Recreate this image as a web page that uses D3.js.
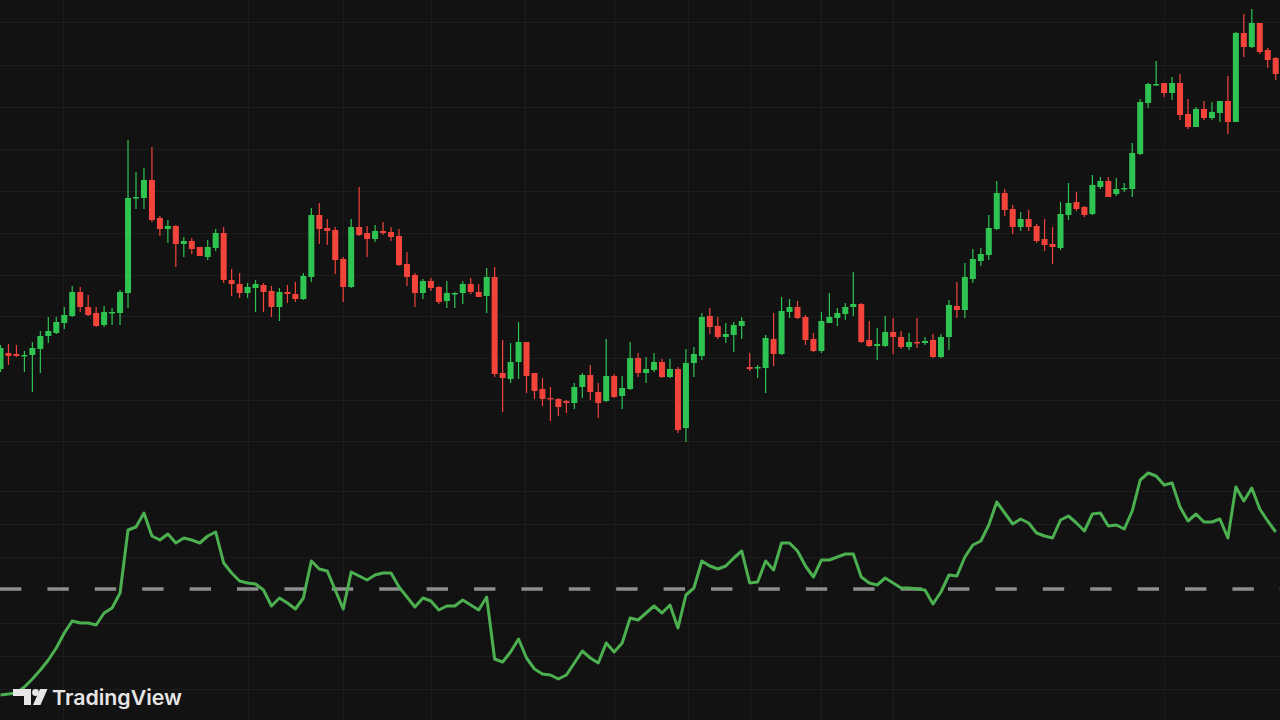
<!DOCTYPE html>
<html>
<head>
<meta charset="utf-8">
<script src="https://cdn.jsdelivr.net/npm/d3@7"></script>
<style>
  html, body { margin: 0; padding: 0; background: #121212; overflow: hidden; }
  svg { display: block; }
</style>
</head>
<body>
<svg id="chart" width="1280" height="720"></svg>
<script>
// ---- Data (arbitrary price units) ----
const opens = [631,647,646,644,645,651,664,667,677,684,708,693,687,675,687,687,707,802,802,820,
782,771,774,756,759,753,743,752,767,720,716,707,712,715,709,693,708,706,701,723,
785,772,770,741,713,773,767,761,769,768,764,736,725,707,719,713,699,706,707,716,
708,704,723,627,621,638,658,627,611,602,601,599,597,613,625,608,599,624,604,611,
642,627,630,638,623,631,572,637,644,684,674,663,665,674,633,632,632,661,646,688,
693,683,661,649,677,682,686,693,696,660,654,654,668,663,653,658,657,660,643,663,
694,690,721,739,745,771,807,791,773,781,774,761,756,752,785,798,793,786,813,819,
806,811,811,846,897,915,917,907,917,886,873,891,882,887,899,878,967,953,977,950,942];
const highs = [655,656,655,649,658,669,683,683,693,714,713,705,693,694,692,710,860,828,832,853,
784,780,775,763,762,753,760,771,773,731,727,717,720,717,714,712,715,718,727,792,
797,781,773,743,781,813,774,775,778,773,771,748,727,721,722,714,719,708,719,722,
716,732,733,660,657,678,658,627,622,613,602,600,617,627,635,617,661,626,624,658,
647,643,647,641,641,633,651,653,687,692,683,677,678,683,647,635,665,687,703,701,
699,685,667,688,707,692,697,728,697,679,672,684,682,669,667,682,663,666,666,700,
718,737,751,752,785,819,811,795,788,790,776,781,773,798,817,808,794,825,823,823,
822,817,857,901,917,939,917,923,926,901,893,899,898,899,924,968,986,991,977,952,943];
const lows = [628,635,643,628,608,627,657,666,671,683,688,684,673,673,675,675,692,791,791,778,
764,757,733,743,746,744,740,749,717,704,702,702,688,688,683,679,697,698,700,718,
756,755,726,698,712,764,743,758,765,759,734,714,693,701,709,696,692,692,696,706,
703,687,623,588,617,621,607,601,594,579,584,587,591,602,600,582,598,602,591,610,
623,617,628,622,622,567,558,623,640,666,661,657,648,661,629,622,607,634,645,682,
681,655,648,647,677,674,680,684,657,653,640,653,646,651,650,652,655,642,642,650,
682,682,717,734,740,770,784,766,769,769,757,749,736,750,780,789,783,785,811,803,
804,808,803,845,892,914,903,900,880,871,873,880,880,878,866,878,943,952,946,932,920];
const closes = [652,644,644,645,652,664,669,678,685,708,693,685,674,688,688,708,802,803,820,780,
771,774,756,759,751,744,753,767,720,716,707,713,716,708,693,708,706,701,724,785,
771,769,740,713,773,765,761,769,767,763,735,723,707,719,712,698,707,707,716,708,
703,723,626,622,638,658,624,609,601,601,593,597,613,625,608,597,624,603,612,642,
627,631,638,623,631,570,637,646,683,673,663,666,675,679,631,633,662,646,689,693,
682,660,649,679,683,687,693,696,658,654,656,668,663,653,658,657,659,643,663,695,
690,723,741,746,772,807,790,773,781,773,759,755,753,786,797,791,785,815,819,803,
811,812,847,898,916,916,907,917,885,873,891,882,888,899,878,967,953,977,948,940,926];
// Oscillator line (units relative to the dashed mid line)
const oscillator = [-106,-105,-104,-98,-90,-81,-71,-59,-44,-32,-34,-34,-36,-24,-19,-4,59,62,76,53,
49,55,46,51,49,46,53,57,26,16,8,6,5,-1,-17,-9,-14,-20,-9,28,
20,18,-1,-20,17,13,9,14,16,16,2,-8,-18,-9,-12,-21,-17,-17,-11,-16,
-21,-8,-70,-73,-63,-50,-69,-80,-85,-86,-90,-86,-74,-62,-69,-74,-54,-63,-54,-29,
-31,-24,-17,-24,-16,-39,-6,1,28,23,20,23,31,38,6,7,28,19,46,46,
38,23,12,29,29,32,35,35,12,6,4,11,6,1,1,0,-1,-15,-3,14,
13,32,44,48,64,87,76,65,70,66,56,53,51,69,73,66,58,75,76,63,
64,60,78,109,116,113,104,106,82,68,75,67,67,70,51,102,88,101,80,68,57];
const midLevel = [0];
// grid tick values
const priceGrid = [559,600,642,684,725,767,809,851,893,935,978];
const oscGrid = [98,65,32,-34,-67,-100];
const timeGrid = [7.8,31,43,54,65.8,77,86.3,94,103,112,146];
const brand = "TradingView";

// ---- Build ----
const W = 1280, H = 720;
const candles = opens.map((o, i) => ({ i, o, h: highs[i], l: lows[i], c: closes[i] }));

const svg = d3.select("#chart");
svg.append("rect").attr("width", W).attr("height", H).attr("fill", "#121212");

const x = d3.scaleLinear().domain([0, 160]).range([0.5, 0.5 + 7.97 * 160]);
const y = d3.scaleLinear().domain([280, 1000]).range([720, 0]);
const yo = d3.scaleLinear().domain([-120, 120]).range([709, 469]);

const grid = svg.append("g").attr("stroke", "#1d1d1d").attr("stroke-width", 1);
grid.selectAll(".hp").data(priceGrid).join("line")
  .attr("x1", 0).attr("x2", W)
  .attr("y1", d => Math.round(y(d)) + 0.5).attr("y2", d => Math.round(y(d)) + 0.5);
grid.selectAll(".ho").data(oscGrid).join("line")
  .attr("x1", 0).attr("x2", W)
  .attr("y1", d => Math.round(yo(d)) + 0.5).attr("y2", d => Math.round(yo(d)) + 0.5);
grid.selectAll(".v").data(timeGrid).join("line")
  .attr("y1", 0).attr("y2", H)
  .attr("x1", d => Math.round(x(d)) + 0.5).attr("x2", d => Math.round(x(d)) + 0.5);

const UP = "#2fc452", DOWN = "#f2443b";
const cg = svg.append("g");
cg.selectAll("line.wick").data(candles).join("line")
  .attr("class", "wick")
  .attr("x1", d => x(d.i)).attr("x2", d => x(d.i))
  .attr("y1", d => y(d.h)).attr("y2", d => y(d.l))
  .attr("stroke", d => d.c >= d.o ? UP : DOWN)
  .attr("stroke-width", 1.2);
cg.selectAll("rect.body").data(candles).join("rect")
  .attr("class", "body")
  .attr("x", d => x(d.i) - 3)
  .attr("width", 6)
  .attr("y", d => y(Math.max(d.o, d.c)))
  .attr("height", d => Math.max(1.5, Math.abs(y(d.o) - y(d.c))))
  .attr("fill", d => d.c >= d.o ? UP : DOWN);

// dashed mid line
svg.selectAll("line.mid").data(midLevel).join("line")
  .attr("class", "mid")
  .attr("x1", 0).attr("x2", W)
  .attr("y1", d => yo(d)).attr("y2", d => yo(d))
  .attr("stroke", "#8d8d8d").attr("stroke-width", 3.5)
  .attr("stroke-dasharray", "21.4 26");

// oscillator line
const line = d3.line().x((d, i) => x(i)).y(d => yo(d)).curve(d3.curveLinear);
svg.append("path").datum(oscillator)
  .attr("d", line)
  .attr("fill", "none")
  .attr("stroke", "#4caf50")
  .attr("stroke-width", 3)
  .attr("stroke-linejoin", "round");

// TradingView watermark
const logo = svg.append("g").attr("fill", "#e6e6e6");
logo.append("path").attr("d", "M13,689 H31 V705 H24 V696 H13 Z");
logo.append("circle").attr("cx", 35.5).attr("cy", 692.5).attr("r", 3.4);
logo.append("path").attr("d", "M40,689 H47.5 L40.5,705 H33 Z");
logo.append("text")
  .attr("x", 52).attr("y", 705)
  .attr("font-family", "Inter, 'Open Sans', sans-serif")
  .attr("font-weight", 600)
  .attr("font-size", 20.5)
  .attr("textLength", 130)
  .attr("lengthAdjust", "spacingAndGlyphs")
  .text(brand);
</script>
</body>
</html>
